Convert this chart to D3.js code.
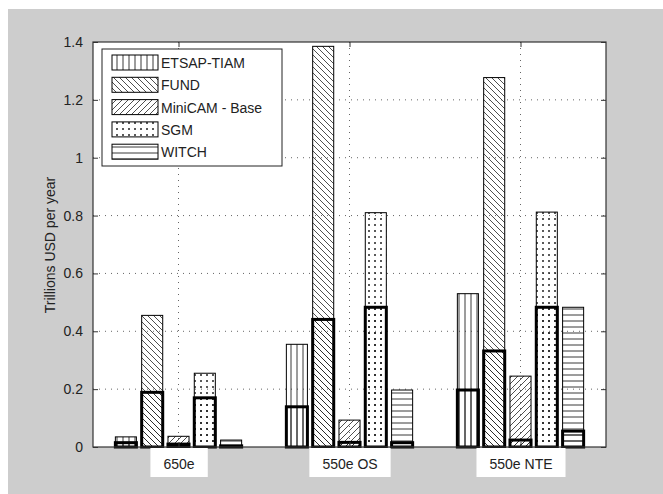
<!DOCTYPE html>
<html>
<head>
<meta charset="utf-8">
<script src="https://cdn.jsdelivr.net/npm/d3@7"></script>
<style>
  body { margin: 0; background: #ffffff; }
  svg text { font-family: "Liberation Sans", Arial, sans-serif; }
</style>
</head>
<body>
<svg id="chart" width="663" height="494"></svg>
<script>
// scenarios on the x axis
var categories = ["650e", "550e OS", "550e NTE"];
// models, one bar per model in each scenario
var models = ["ETSAP-TIAM", "FUND", "MiniCAM - Base", "SGM", "WITCH"];
// upper values (thin outline), one entry per scenario
var etsapHigh = [0.035, 0.355, 0.53];
var fundHigh = [0.455, 1.385, 1.277];
var minicamHigh = [0.037, 0.093, 0.245];
var sgmHigh = [0.255, 0.81, 0.812];
var witchHigh = [0.024, 0.197, 0.483];
// lower values (thick outline)
var etsapLow = [0.015, 0.139, 0.197];
var fundLow = [0.189, 0.441, 0.332];
var minicamLow = [0.01, 0.016, 0.024];
var sgmLow = [0.17, 0.483, 0.483];
var witchLow = [0.004, 0.015, 0.055];
var yTicks = [0, 0.2, 0.4, 0.6, 0.8, 1, 1.2, 1.4];

var highSeries = [etsapHigh, fundHigh, minicamHigh, sgmHigh, witchHigh];
var lowSeries = [etsapLow, fundLow, minicamLow, sgmLow, witchLow];
var patternIds = ["hVert", "hBack", "hFwd", "hDots", "hHorz"];

var svg = d3.select("#chart");
var plot = {left: 93, right: 606, top: 42, bottom: 447};

// gray page behind the figure (white strip on top and left like the scan)
svg.append("rect").attr("x", 8).attr("y", 9).attr("width", 655).attr("height", 485)
    .attr("fill", "#cdcdcd");

// hatch patterns
var defs = svg.append("defs");
function makePattern(id) {
    return defs.append("pattern").attr("id", id)
        .attr("patternUnits", "userSpaceOnUse")
        .attr("width", 6).attr("height", 6);
}
var ink = "#222";
makePattern("hVert").append("line").attr("x1", 3).attr("y1", 0).attr("x2", 3).attr("y2", 6)
    .attr("stroke", ink).attr("stroke-width", 0.9);
makePattern("hHorz").append("line").attr("x1", 0).attr("y1", 3).attr("x2", 6).attr("y2", 3)
    .attr("stroke", ink).attr("stroke-width", 0.9);
makePattern("hBack").append("path").attr("d", "M0,0L6,6M-1,5L1,7M5,-1L7,1")
    .attr("stroke", ink).attr("stroke-width", 0.8);
makePattern("hFwd").append("path").attr("d", "M0,6L6,0M-1,1L1,-1M5,7L7,5")
    .attr("stroke", ink).attr("stroke-width", 0.8);
makePattern("hDots").append("circle").attr("cx", 3).attr("cy", 3).attr("r", 1)
    .attr("fill", ink);

var x = d3.scaleLinear().domain([0.5, categories.length + 0.5]).range([plot.left, plot.right]);
var y = d3.scaleLinear().domain([0, 1.4]).range([plot.bottom, plot.top]);

// white axes area
svg.append("rect").attr("x", plot.left).attr("y", plot.top)
    .attr("width", plot.right - plot.left).attr("height", plot.bottom - plot.top)
    .attr("fill", "#fff");

// dotted grid
var grid = svg.append("g").attr("stroke", "#666").attr("stroke-width", 1)
    .attr("stroke-dasharray", "1,5");
grid.selectAll("line.h").data(yTicks.slice(1, -1)).enter().append("line")
    .attr("x1", plot.left).attr("x2", plot.right)
    .attr("y1", function (d) { return y(d); }).attr("y2", function (d) { return y(d); });
grid.selectAll("line.v").data(categories).enter().append("line")
    .attr("y1", plot.top).attr("y2", plot.bottom)
    .attr("x1", function (d, i) { return x(i + 1); }).attr("x2", function (d, i) { return x(i + 1); });

// grouped bars, matlab style spacing
var groupWidth = Math.min(0.8, models.length / (models.length + 1.5));
var step = groupWidth / models.length;
var barW = x(1 + step * 0.8) - x(1);
var bars = svg.append("g");

function drawLayer(series, strokeW) {
    series.forEach(function (vals, j) {
        bars.selectAll(null).data(vals).enter().append("rect")
            .attr("x", function (d, i) { return x(i + 1 + (j - (models.length - 1) / 2) * step) - barW / 2; })
            .attr("y", function (d) { return y(d); })
            .attr("width", barW)
            .attr("height", function (d) { return y(0) - y(d); })
            .attr("fill", "url(#" + patternIds[j] + ")")
            .attr("stroke", "#000")
            .attr("stroke-width", strokeW);
    });
}
drawLayer(highSeries, 1);
drawLayer(lowSeries, 3);

// axes
var axisColor = "#333";
var leftAxis = svg.append("g").attr("transform", "translate(" + plot.left + ",0)")
    .call(d3.axisLeft(y).tickValues(yTicks).tickSizeInner(-5).tickSizeOuter(0).tickPadding(10)
        .tickFormat(function (d) { return d3.format("~g")(d); }));
var rightAxis = svg.append("g").attr("transform", "translate(" + plot.right + ",0)")
    .call(d3.axisRight(y).tickValues(yTicks).tickSizeInner(-5).tickSizeOuter(0).tickFormat(""));
var topAxis = svg.append("g").attr("transform", "translate(0," + plot.top + ")")
    .call(d3.axisTop(x).tickValues([1, 2, 3]).tickSizeInner(-5).tickSizeOuter(0).tickFormat(""));
var bottomAxis = svg.append("g").attr("transform", "translate(0," + plot.bottom + ")")
    .call(d3.axisBottom(x).tickValues([1, 2, 3]).tickSizeInner(-5).tickSizeOuter(0).tickPadding(12)
        .tickFormat(function (d) { return categories[d - 1]; }));
[leftAxis, rightAxis, topAxis, bottomAxis].forEach(function (g) {
    g.attr("font-family", null).attr("font-size", null);
    g.select(".domain").remove();
    g.selectAll(".tick line").attr("stroke", axisColor);
    g.selectAll("text").attr("font-size", 14).attr("fill", "#222");
});
svg.append("rect").attr("x", plot.left).attr("y", plot.top)
    .attr("width", plot.right - plot.left).attr("height", plot.bottom - plot.top)
    .attr("fill", "none").attr("stroke", axisColor).attr("stroke-width", 1.2);

// white boxes behind the category labels
bottomAxis.selectAll(".tick").each(function () {
    var t = d3.select(this).select("text");
    var bb = t.node().getBBox();
    d3.select(this).insert("rect", "text")
        .attr("x", bb.x - 13).attr("y", 1)
        .attr("width", bb.width + 26).attr("height", 29)
        .attr("fill", "#fff");
});

// y label
svg.append("text")
    .attr("transform", "translate(55,245) rotate(-90)")
    .attr("text-anchor", "middle")
    .attr("font-size", 14).attr("fill", "#222")
    .text("Trillions USD per year");

// legend
var legend = svg.append("g");
legend.append("rect").attr("x", 102).attr("y", 49).attr("width", 180).attr("height", 117)
    .attr("fill", "#fff").attr("stroke", "#222").attr("stroke-width", 1);
models.forEach(function (m, j) {
    var ly = 55 + j * 22.3;
    legend.append("rect").attr("x", 112).attr("y", ly).attr("width", 46).attr("height", 15)
        .attr("fill", "url(#" + patternIds[j] + ")").attr("stroke", "#000").attr("stroke-width", 1);
    legend.append("text").attr("x", 161).attr("y", ly + 13)
        .attr("font-size", 14).attr("fill", "#222").text(m);
});
</script>
</body>
</html>
